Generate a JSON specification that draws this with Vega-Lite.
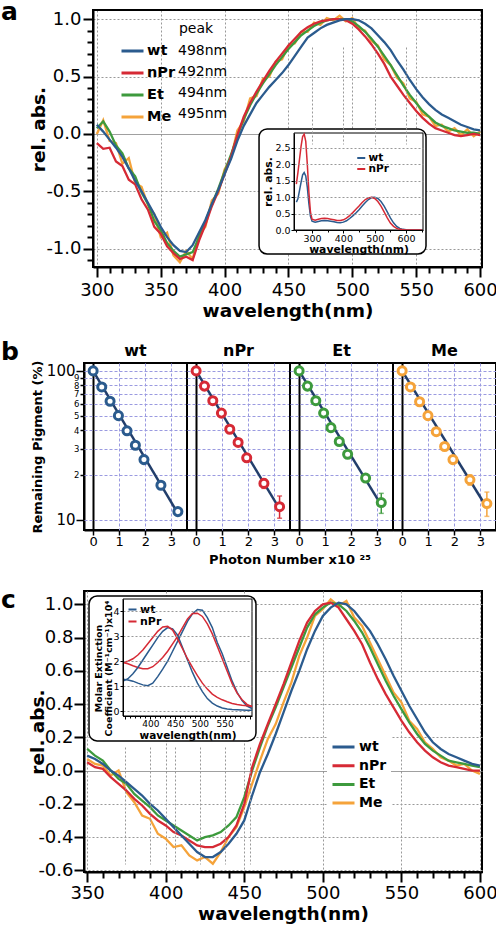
{
"$schema": "https://vega.github.io/schema/vega-lite/v6.json",
"padding": {"left": 0, "top": 0, "right": 0, "bottom": 0},
"columns": 1,
"align": "none",
"spacing": 20,
"datasets": {
"A": [
{"w":300,"wt":0.08,"nPr":-0.08,"Et":0.05,"Me":0.0},
{"w":305,"wt":0.02,"nPr":-0.13,"Et":0.11,"Me":0.12},
{"w":310,"wt":-0.05,"nPr":-0.12,"Et":0.02,"Me":-0.06},
{"w":315,"wt":-0.12,"nPr":-0.24,"Et":-0.1,"Me":-0.08},
{"w":320,"wt":-0.2,"nPr":-0.28,"Et":-0.17,"Me":-0.26},
{"w":325,"wt":-0.3,"nPr":-0.4,"Et":-0.3,"Me":-0.21},
{"w":330,"wt":-0.41,"nPr":-0.44,"Et":-0.37,"Me":-0.43},
{"w":335,"wt":-0.5,"nPr":-0.57,"Et":-0.51,"Me":-0.46},
{"w":340,"wt":-0.6,"nPr":-0.66,"Et":-0.61,"Me":-0.62},
{"w":345,"wt":-0.7,"nPr":-0.81,"Et":-0.76,"Me":-0.7},
{"w":350,"wt":-0.81,"nPr":-0.87,"Et":-0.84,"Me":-0.9},
{"w":355,"wt":-0.9,"nPr":-0.98,"Et":-0.95,"Me":-0.86},
{"w":360,"wt":-0.97,"nPr":-1.04,"Et":-1.02,"Me":-1.06},
{"w":365,"wt":-1.02,"nPr":-1.09,"Et":-1.07,"Me":-1.12},
{"w":370,"wt":-1.03,"nPr":-1.07,"Et":-1.05,"Me":-1.02},
{"w":375,"wt":-0.97,"nPr":-1.1,"Et":-1.03,"Me":-1.09},
{"w":380,"wt":-0.86,"nPr":-0.93,"Et":-0.9,"Me":-0.88},
{"w":385,"wt":-0.75,"nPr":-0.79,"Et":-0.76,"Me":-0.81},
{"w":390,"wt":-0.61,"nPr":-0.63,"Et":-0.62,"Me":-0.58},
{"w":395,"wt":-0.49,"nPr":-0.5,"Et":-0.48,"Me":-0.52},
{"w":400,"wt":-0.35,"nPr":-0.35,"Et":-0.33,"Me":-0.31},
{"w":405,"wt":-0.22,"nPr":-0.2,"Et":-0.18,"Me":-0.21},
{"w":410,"wt":-0.06,"nPr":-0.01,"Et":-0.02,"Me":0.03},
{"w":415,"wt":0.07,"nPr":0.15,"Et":0.13,"Me":0.11},
{"w":420,"wt":0.17,"nPr":0.27,"Et":0.25,"Me":0.31},
{"w":425,"wt":0.27,"nPr":0.37,"Et":0.35,"Me":0.33},
{"w":430,"wt":0.34,"nPr":0.46,"Et":0.44,"Me":0.48},
{"w":435,"wt":0.41,"nPr":0.55,"Et":0.52,"Me":0.5},
{"w":440,"wt":0.47,"nPr":0.63,"Et":0.6,"Me":0.63},
{"w":445,"wt":0.53,"nPr":0.7,"Et":0.67,"Me":0.65},
{"w":450,"wt":0.6,"nPr":0.77,"Et":0.74,"Me":0.77},
{"w":455,"wt":0.68,"nPr":0.83,"Et":0.8,"Me":0.79},
{"w":460,"wt":0.76,"nPr":0.89,"Et":0.86,"Me":0.89},
{"w":465,"wt":0.84,"nPr":0.93,"Et":0.9,"Me":0.89},
{"w":470,"wt":0.88,"nPr":0.96,"Et":0.94,"Me":0.97},
{"w":475,"wt":0.92,"nPr":0.98,"Et":0.97,"Me":0.95},
{"w":480,"wt":0.95,"nPr":0.99,"Et":0.99,"Me":1.01},
{"w":485,"wt":0.97,"nPr":1.0,"Et":1.0,"Me":0.99},
{"w":490,"wt":0.99,"nPr":1.0,"Et":1.0,"Me":1.03},
{"w":495,"wt":1.0,"nPr":0.99,"Et":1.0,"Me":0.98},
{"w":500,"wt":1.0,"nPr":0.96,"Et":0.98,"Me":1.01},
{"w":505,"wt":0.99,"nPr":0.91,"Et":0.94,"Me":0.92},
{"w":510,"wt":0.96,"nPr":0.85,"Et":0.89,"Me":0.9},
{"w":515,"wt":0.92,"nPr":0.78,"Et":0.83,"Me":0.81},
{"w":520,"wt":0.86,"nPr":0.7,"Et":0.76,"Me":0.77},
{"w":525,"wt":0.8,"nPr":0.61,"Et":0.68,"Me":0.65},
{"w":530,"wt":0.73,"nPr":0.5,"Et":0.6,"Me":0.6},
{"w":535,"wt":0.64,"nPr":0.42,"Et":0.51,"Me":0.49},
{"w":540,"wt":0.56,"nPr":0.34,"Et":0.42,"Me":0.44},
{"w":545,"wt":0.47,"nPr":0.27,"Et":0.34,"Me":0.31},
{"w":550,"wt":0.39,"nPr":0.2,"Et":0.27,"Me":0.28},
{"w":555,"wt":0.32,"nPr":0.14,"Et":0.2,"Me":0.17},
{"w":560,"wt":0.26,"nPr":0.09,"Et":0.15,"Me":0.15},
{"w":565,"wt":0.21,"nPr":0.05,"Et":0.1,"Me":0.07},
{"w":570,"wt":0.17,"nPr":0.03,"Et":0.07,"Me":0.08},
{"w":575,"wt":0.14,"nPr":0.01,"Et":0.05,"Me":0.02},
{"w":580,"wt":0.11,"nPr":-0.01,"Et":0.03,"Me":0.05},
{"w":585,"wt":0.08,"nPr":-0.02,"Et":0.02,"Me":-0.01},
{"w":590,"wt":0.06,"nPr":-0.01,"Et":0.01,"Me":0.04},
{"w":595,"wt":0.04,"nPr":0.0,"Et":0.01,"Me":-0.02},
{"w":600,"wt":0.03,"nPr":-0.01,"Et":0.0,"Me":0.02}
],
"IA": [
{"w":250,"wt":0.85,"nPr":1.4},{"w":255,"wt":0.95,"nPr":1.75},{"w":260,"wt":1.2,"nPr":2.15},{"w":265,"wt":1.45,"nPr":2.55},
{"w":270,"wt":1.68,"nPr":2.85},{"w":275,"wt":1.75,"nPr":2.92},{"w":280,"wt":1.65,"nPr":2.7},{"w":285,"wt":1.3,"nPr":2.0},
{"w":290,"wt":0.8,"nPr":1.15},{"w":295,"wt":0.42,"nPr":0.55},{"w":300,"wt":0.27,"nPr":0.33},{"w":310,"wt":0.24,"nPr":0.3},
{"w":320,"wt":0.26,"nPr":0.33},{"w":330,"wt":0.28,"nPr":0.35},{"w":340,"wt":0.29,"nPr":0.36},{"w":350,"wt":0.28,"nPr":0.35},
{"w":360,"wt":0.27,"nPr":0.33},{"w":370,"wt":0.25,"nPr":0.31},{"w":380,"wt":0.23,"nPr":0.29},{"w":390,"wt":0.22,"nPr":0.29},
{"w":400,"wt":0.24,"nPr":0.31},{"w":410,"wt":0.28,"nPr":0.36},{"w":420,"wt":0.35,"nPr":0.44},{"w":430,"wt":0.43,"nPr":0.53},
{"w":440,"wt":0.52,"nPr":0.63},{"w":450,"wt":0.62,"nPr":0.73},{"w":460,"wt":0.73,"nPr":0.84},{"w":470,"wt":0.84,"nPr":0.93},
{"w":480,"wt":0.93,"nPr":0.98},{"w":490,"wt":0.99,"nPr":1.0},{"w":500,"wt":1.0,"nPr":0.96},{"w":510,"wt":0.96,"nPr":0.87},
{"w":520,"wt":0.87,"nPr":0.73},{"w":530,"wt":0.73,"nPr":0.55},{"w":540,"wt":0.55,"nPr":0.37},{"w":550,"wt":0.37,"nPr":0.21},
{"w":560,"wt":0.22,"nPr":0.11},{"w":570,"wt":0.11,"nPr":0.05},{"w":580,"wt":0.05,"nPr":0.02},{"w":590,"wt":0.02,"nPr":0.01},
{"w":600,"wt":0.01,"nPr":0.0},{"w":620,"wt":0.0,"nPr":0.0},{"w":650,"wt":0.0,"nPr":0.0}
],
"C": [
{"w":350,"wt":0.09,"nPr":0.05,"Et":0.13,"Me":0.07},
{"w":355,"wt":0.07,"nPr":0.02,"Et":0.09,"Me":0.04},
{"w":360,"wt":0.04,"nPr":0.01,"Et":0.06,"Me":0.03},
{"w":365,"wt":0.0,"nPr":-0.04,"Et":0.0,"Me":-0.03},
{"w":370,"wt":-0.03,"nPr":-0.08,"Et":-0.05,"Me":0.0},
{"w":375,"wt":-0.07,"nPr":-0.12,"Et":-0.08,"Me":-0.13},
{"w":380,"wt":-0.11,"nPr":-0.17,"Et":-0.14,"Me":-0.19},
{"w":385,"wt":-0.15,"nPr":-0.21,"Et":-0.18,"Me":-0.27},
{"w":390,"wt":-0.2,"nPr":-0.26,"Et":-0.22,"Me":-0.29},
{"w":395,"wt":-0.24,"nPr":-0.3,"Et":-0.27,"Me":-0.38},
{"w":400,"wt":-0.29,"nPr":-0.33,"Et":-0.3,"Me":-0.41},
{"w":405,"wt":-0.34,"nPr":-0.37,"Et":-0.33,"Me":-0.46},
{"w":410,"wt":-0.39,"nPr":-0.39,"Et":-0.36,"Me":-0.45},
{"w":415,"wt":-0.44,"nPr":-0.42,"Et":-0.39,"Me":-0.51},
{"w":420,"wt":-0.49,"nPr":-0.45,"Et":-0.42,"Me":-0.54},
{"w":425,"wt":-0.52,"nPr":-0.46,"Et":-0.4,"Me":-0.52},
{"w":430,"wt":-0.52,"nPr":-0.46,"Et":-0.39,"Me":-0.56},
{"w":435,"wt":-0.49,"nPr":-0.44,"Et":-0.37,"Me":-0.49},
{"w":440,"wt":-0.44,"nPr":-0.4,"Et":-0.33,"Me":-0.4},
{"w":445,"wt":-0.38,"nPr":-0.33,"Et":-0.28,"Me":-0.34},
{"w":450,"wt":-0.3,"nPr":-0.2,"Et":-0.16,"Me":-0.22},
{"w":455,"wt":-0.15,"nPr":0.02,"Et":0.0,"Me":-0.08},
{"w":460,"wt":-0.01,"nPr":0.16,"Et":0.14,"Me":0.06},
{"w":465,"wt":0.1,"nPr":0.28,"Et":0.27,"Me":0.19},
{"w":470,"wt":0.22,"nPr":0.4,"Et":0.38,"Me":0.28},
{"w":475,"wt":0.35,"nPr":0.52,"Et":0.5,"Me":0.41},
{"w":480,"wt":0.48,"nPr":0.65,"Et":0.62,"Me":0.53},
{"w":485,"wt":0.6,"nPr":0.78,"Et":0.74,"Me":0.69},
{"w":490,"wt":0.73,"nPr":0.89,"Et":0.86,"Me":0.8},
{"w":495,"wt":0.84,"nPr":0.96,"Et":0.94,"Me":0.93},
{"w":500,"wt":0.93,"nPr":1.0,"Et":0.98,"Me":0.97},
{"w":505,"wt":0.98,"nPr":1.01,"Et":1.01,"Me":1.03},
{"w":510,"wt":1.01,"nPr":0.98,"Et":1.0,"Me":0.99},
{"w":515,"wt":1.0,"nPr":0.91,"Et":0.96,"Me":1.02},
{"w":520,"wt":0.96,"nPr":0.84,"Et":0.9,"Me":0.92},
{"w":525,"wt":0.9,"nPr":0.76,"Et":0.83,"Me":0.87},
{"w":530,"wt":0.84,"nPr":0.65,"Et":0.74,"Me":0.77},
{"w":535,"wt":0.76,"nPr":0.55,"Et":0.64,"Me":0.67},
{"w":540,"wt":0.67,"nPr":0.46,"Et":0.54,"Me":0.57},
{"w":545,"wt":0.57,"nPr":0.38,"Et":0.45,"Me":0.47},
{"w":550,"wt":0.48,"nPr":0.3,"Et":0.37,"Me":0.41},
{"w":555,"wt":0.39,"nPr":0.23,"Et":0.29,"Me":0.3},
{"w":560,"wt":0.31,"nPr":0.17,"Et":0.22,"Me":0.25},
{"w":565,"wt":0.23,"nPr":0.12,"Et":0.16,"Me":0.17},
{"w":570,"wt":0.17,"nPr":0.08,"Et":0.12,"Me":0.13},
{"w":575,"wt":0.13,"nPr":0.05,"Et":0.09,"Me":0.08},
{"w":580,"wt":0.1,"nPr":0.03,"Et":0.06,"Me":0.06},
{"w":585,"wt":0.08,"nPr":0.02,"Et":0.05,"Me":0.03},
{"w":590,"wt":0.06,"nPr":0.01,"Et":0.04,"Me":0.04},
{"w":595,"wt":0.04,"nPr":0.0,"Et":0.03,"Me":0.0},
{"w":600,"wt":0.03,"nPr":0.0,"Et":0.02,"Me":-0.02}
],
"IC": [
{"k":"A","w":345,"wt":1.28,"nPr":1.95},{"k":"A","w":355,"wt":1.25,"nPr":1.9},{"k":"A","w":365,"wt":1.2,"nPr":1.82},
{"k":"A","w":375,"wt":1.12,"nPr":1.75},{"k":"A","w":385,"wt":1.05,"nPr":1.7},{"k":"A","w":395,"wt":1.02,"nPr":1.7},
{"k":"A","w":405,"wt":1.12,"nPr":1.78},{"k":"A","w":415,"wt":1.38,"nPr":1.95},{"k":"A","w":425,"wt":1.68,"nPr":2.15},
{"k":"A","w":435,"wt":2.0,"nPr":2.4},{"k":"A","w":445,"wt":2.4,"nPr":2.7},{"k":"A","w":455,"wt":2.8,"nPr":3.0},
{"k":"A","w":465,"wt":3.2,"nPr":3.35},{"k":"A","w":475,"wt":3.6,"nPr":3.7},{"k":"A","w":485,"wt":3.9,"nPr":3.92},
{"k":"A","w":495,"wt":4.08,"nPr":3.93},{"k":"A","w":505,"wt":4.05,"nPr":3.8},{"k":"A","w":515,"wt":3.75,"nPr":3.5},
{"k":"A","w":525,"wt":3.35,"nPr":3.1},{"k":"A","w":535,"wt":2.75,"nPr":2.6},{"k":"A","w":545,"wt":2.3,"nPr":2.1},
{"k":"A","w":555,"wt":1.75,"nPr":1.6},{"k":"A","w":565,"wt":1.2,"nPr":1.1},{"k":"A","w":575,"wt":0.75,"nPr":0.72},
{"k":"A","w":585,"wt":0.42,"nPr":0.45},{"k":"A","w":595,"wt":0.2,"nPr":0.27},{"k":"A","w":605,"wt":0.1,"nPr":0.17},
{"k":"B","w":345,"wt":1.2,"nPr":1.95},{"k":"B","w":355,"wt":1.3,"nPr":2.0},{"k":"B","w":365,"wt":1.5,"nPr":2.1},
{"k":"B","w":375,"wt":1.75,"nPr":2.25},{"k":"B","w":385,"wt":2.05,"nPr":2.45},{"k":"B","w":395,"wt":2.35,"nPr":2.7},
{"k":"B","w":405,"wt":2.65,"nPr":2.95},{"k":"B","w":415,"wt":2.95,"nPr":3.2},{"k":"B","w":425,"wt":3.2,"nPr":3.38},
{"k":"B","w":435,"wt":3.35,"nPr":3.4},{"k":"B","w":445,"wt":3.3,"nPr":3.25},{"k":"B","w":455,"wt":3.05,"nPr":2.9},
{"k":"B","w":465,"wt":2.55,"nPr":2.5},{"k":"B","w":475,"wt":2.05,"nPr":2.1},{"k":"B","w":485,"wt":1.55,"nPr":1.75},
{"k":"B","w":495,"wt":1.12,"nPr":1.42},{"k":"B","w":505,"wt":0.78,"nPr":1.12},{"k":"B","w":515,"wt":0.5,"nPr":0.88},
{"k":"B","w":525,"wt":0.32,"nPr":0.68},{"k":"B","w":535,"wt":0.2,"nPr":0.55},{"k":"B","w":545,"wt":0.12,"nPr":0.45},
{"k":"B","w":555,"wt":0.08,"nPr":0.37},{"k":"B","w":565,"wt":0.06,"nPr":0.3},{"k":"B","w":575,"wt":0.05,"nPr":0.26},
{"k":"B","w":585,"wt":0.04,"nPr":0.23},{"k":"B","w":595,"wt":0.03,"nPr":0.21},{"k":"B","w":605,"wt":0.03,"nPr":0.2}
],
"B": [
{"g":"wt","k":"pt","x":0,"y":100},{"g":"wt","k":"pt","x":0.33,"y":78},{"g":"wt","k":"pt","x":0.65,"y":62.5},
{"g":"wt","k":"pt","x":0.97,"y":50},{"g":"wt","k":"pt","x":1.3,"y":39.5},{"g":"wt","k":"pt","x":1.62,"y":31.6},
{"g":"wt","k":"pt","x":1.95,"y":25.3},{"g":"wt","k":"pt","x":2.6,"y":17},{"g":"wt","k":"pt","x":3.25,"y":11.3},
{"g":"nPr","k":"pt","x":0,"y":100},{"g":"nPr","k":"pt","x":0.32,"y":79},{"g":"nPr","k":"pt","x":0.64,"y":63},
{"g":"nPr","k":"pt","x":0.97,"y":52},{"g":"nPr","k":"pt","x":1.29,"y":40.5},{"g":"nPr","k":"pt","x":1.61,"y":33},
{"g":"nPr","k":"pt","x":1.94,"y":26},{"g":"nPr","k":"pt","x":2.6,"y":17.5,"lo":16.2,"hi":18.8},{"g":"nPr","k":"pt","x":3.2,"y":12.2,"lo":10.2,"hi":14.4},
{"g":"Et","k":"pt","x":0,"y":100},{"g":"Et","k":"pt","x":0.32,"y":79},{"g":"Et","k":"pt","x":0.64,"y":63},
{"g":"Et","k":"pt","x":0.94,"y":52},{"g":"Et","k":"pt","x":1.22,"y":41.5},{"g":"Et","k":"pt","x":1.54,"y":33.5},
{"g":"Et","k":"pt","x":1.86,"y":27.5},{"g":"Et","k":"pt","x":2.55,"y":19,"lo":18,"hi":20},{"g":"Et","k":"pt","x":3.15,"y":13,"lo":11,"hi":15},
{"g":"Me","k":"pt","x":0,"y":100},{"g":"Me","k":"pt","x":0.32,"y":78},{"g":"Me","k":"pt","x":0.67,"y":62},
{"g":"Me","k":"pt","x":0.99,"y":50},{"g":"Me","k":"pt","x":1.31,"y":39},{"g":"Me","k":"pt","x":1.63,"y":31},
{"g":"Me","k":"pt","x":1.95,"y":25.3},{"g":"Me","k":"pt","x":2.6,"y":18.5,"lo":17,"hi":20},{"g":"Me","k":"pt","x":3.25,"y":12.8,"lo":10.5,"hi":15.3},
{"g":"wt","k":"fit","x":0,"y":100},{"g":"wt","k":"fit","x":3.25,"y":11},
{"g":"nPr","k":"fit","x":0,"y":100},{"g":"nPr","k":"fit","x":3.2,"y":11.8},
{"g":"Et","k":"fit","x":0,"y":100},{"g":"Et","k":"fit","x":3.15,"y":12.5},
{"g":"Me","k":"fit","x":0,"y":100},{"g":"Me","k":"fit","x":3.25,"y":12}
]
},
"concat": [
{
"width": 398, "height": 257,
"view": {"stroke": null},
"title": {"text": "a", "anchor": "start", "frame": "group", "fontSize": 25, "fontWeight": "bold", "dx": -83, "dy": 5, "offset": -31, "baseline": "alphabetic"},
"layer": [
 {
  "layer": [
   {"data": {"values": [{}]}, "mark": {"type": "rect", "fill": "#fff", "fillOpacity": 0, "stroke": "#000", "strokeWidth": 2},
    "encoding": {
     "x": {"datum": 297, "type": "quantitative", "scale": {"domain": [297, 601.5], "range": [9, 398], "nice": false, "zero": false},
       "axis": {"values": [300,310,320,330,340,350,360,370,380,390,400,410,420,430,440,450,460,470,480,490,500,510,520,530,540,550,560,570,580,590,600],
         "labelExpr": "datum.value % 50 === 0 ? datum.label : ''", "labelOverlap": false,
         "tickSize": {"condition": {"test": "datum.value % 50 === 0", "value": 10}, "value": 6},
         "grid": true, "gridOpacity": {"condition": {"test": "datum.value % 50 === 0", "value": 1}, "value": 0},
         "labelFontSize": 18, "labelPadding": 4,
         "title": "wavelength(nm)", "titleFontSize": 18.5, "titleFontWeight": "bold", "titleBaseline": "alphabetic", "titleY": 49}},
     "x2": {"datum": 601.5},
     "y": {"datum": -1.16, "type": "quantitative", "scale": {"domain": [-1.16, 1.08], "nice": false, "zero": false},
       "axis": {"offset": -9, "values": [-1.1,-1,-0.9,-0.8,-0.7,-0.6,-0.5,-0.4,-0.3,-0.2,-0.1,0,0.1,0.2,0.3,0.4,0.5,0.6,0.7,0.8,0.9,1],
         "labelExpr": "abs(round(datum.value*10)) % 5 === 0 ? (datum.value < 0 ? '-' : '') + format(abs(datum.value), '.1f') : ''", "labelOverlap": false,
         "tickSize": {"condition": {"test": "abs(round(datum.value*10)) % 5 === 0", "value": 10}, "value": 6},
         "grid": true, "gridOpacity": {"condition": {"test": "abs(round(datum.value*10)) % 5 === 0", "value": 1}, "value": 0},
         "gridDash": {"condition": {"test": "datum.value === 0", "value": [1,0]}, "value": [2,2]},
         "gridColor": {"condition": {"test": "datum.value === 0", "value": "#808080"}, "value": "#999"},
         "labelFontSize": 18, "labelPadding": 2,
         "title": "rel. abs.", "titleFontSize": 18.5, "titleFontWeight": "bold", "titleBaseline": "alphabetic", "titleX": -49, "titleY": 119}},
     "y2": {"datum": 1.08}}},
   {"data": {"name": "A"}, "transform": [{"fold": ["Me","Et","nPr","wt"], "as": ["s","v"]}],
    "mark": {"type": "line", "strokeWidth": 2.3},
    "encoding": {
     "x": {"field": "w", "type": "quantitative", "scale": {"domain": [297, 601.5], "range": [9, 398], "nice": false, "zero": false},
       "axis": {"values": [300,310,320,330,340,350,360,370,380,390,400,410,420,430,440,450,460,470,480,490,500,510,520,530,540,550,560,570,580,590,600],
         "labelExpr": "datum.value % 50 === 0 ? datum.label : ''", "labelOverlap": false,
         "tickSize": {"condition": {"test": "datum.value % 50 === 0", "value": 10}, "value": 6},
         "grid": true, "gridOpacity": {"condition": {"test": "datum.value % 50 === 0", "value": 1}, "value": 0},
         "labelFontSize": 18, "labelPadding": 4,
         "title": "wavelength(nm)", "titleFontSize": 18.5, "titleFontWeight": "bold", "titleBaseline": "alphabetic", "titleY": 49}},
     "y": {"field": "v", "type": "quantitative", "scale": {"domain": [-1.16, 1.08], "nice": false, "zero": false},
       "axis": {"offset": -9, "values": [-1.1,-1,-0.9,-0.8,-0.7,-0.6,-0.5,-0.4,-0.3,-0.2,-0.1,0,0.1,0.2,0.3,0.4,0.5,0.6,0.7,0.8,0.9,1],
         "labelExpr": "abs(round(datum.value*10)) % 5 === 0 ? (datum.value < 0 ? '-' : '') + format(abs(datum.value), '.1f') : ''", "labelOverlap": false,
         "tickSize": {"condition": {"test": "abs(round(datum.value*10)) % 5 === 0", "value": 10}, "value": 6},
         "grid": true, "gridOpacity": {"condition": {"test": "abs(round(datum.value*10)) % 5 === 0", "value": 1}, "value": 0},
         "gridDash": {"condition": {"test": "datum.value === 0", "value": [1,0]}, "value": [2,2]},
         "gridColor": {"condition": {"test": "datum.value === 0", "value": "#808080"}, "value": "#999"},
         "labelFontSize": 18, "labelPadding": 2,
         "title": "rel. abs.", "titleFontSize": 18.5, "titleFontWeight": "bold", "titleBaseline": "alphabetic", "titleX": -49, "titleY": 119}},
     "color": {"field": "s", "type": "nominal", "scale": {"domain": ["wt","nPr","Et","Me"], "range": ["#2b5b8e","#d62a35","#3d9a3d","#f5a33a"]},
       "legend": {"orient": "none", "legendX": 36, "legendY": 33.5, "title": null, "labelFontSize": 14.5, "labelFontWeight": "bold", "symbolType": "stroke", "symbolSize": 484, "symbolStrokeWidth": 3, "clipHeight": 15, "rowPadding": 6, "labelOffset": 2, "padding": 0}}
    }},
   {"data": {"values": [{"pk":"498nm"},{"pk":"492nm"},{"pk":"494nm"},{"pk":"495nm"}]},
    "mark": {"type": "point", "size": 0, "opacity": 0},
    "encoding": {"shape": {"field": "pk", "type": "nominal", "scale": {"domain": ["498nm","492nm","494nm","495nm"]},
      "legend": {"orient": "none", "legendX": 80, "legendY": 12, "title": "peak", "titleFontSize": 14, "titleFontWeight": "normal", "titleAnchor": "middle", "titlePadding": 7.5, "labelFontSize": 14, "symbolSize": 0, "symbolOpacity": 0, "labelOffset": 0, "clipHeight": 15, "rowPadding": 6, "padding": 0}}}}
  ]
 },
 {
  "layer": [
   {"data": {"values": [{}]}, "mark": {"type": "rect", "fill": "#fff", "stroke": "#000", "strokeWidth": 1.5, "cornerRadius": 8},
    "encoding": {
     "x": {"datum": 131, "type": "quantitative", "scale": {"domain": [242.5, 654], "range": [210, 339], "nice": false, "zero": false},
       "axis": {"orient": "bottom", "offset": -37, "zindex": 1, "values": [250,300,350,400,450,500,550,600,650],
         "labelExpr": "datum.value % 100 === 0 ? datum.label : ''", "labelOverlap": false,
         "tickSize": {"condition": {"test": "datum.value % 100 === 0", "value": 3}, "value": 2},
         "tickWidth": 1, "domainWidth": 1, "labelFontSize": 9.5, "labelPadding": 0,
         "grid": true, "gridOpacity": {"condition": {"test": "datum.value % 100 === 0", "value": 1}, "value": 0},
         "title": "wavelength(nm)", "titleFontSize": 10.8, "titleFontWeight": "bold", "titleBaseline": "alphabetic", "titleY": 22}},
     "x2": {"datum": 663.6},
     "y": {"datum": 3.08, "type": "quantitative", "scale": {"domain": [0, 2.957], "range": [220, 123], "nice": false, "zero": false},
       "axis": {"orient": "left", "offset": -210, "zindex": 1, "values": [0,0.5,1,1.5,2,2.5], "format": ".1f", "labelOverlap": false,
         "tickSize": 3, "tickWidth": 1, "domainWidth": 1, "labelFontSize": 9.5, "labelPadding": 1, "grid": true,
         "title": "rel. abs.", "titleFontSize": 10.8, "titleFontWeight": "bold", "titleBaseline": "alphabetic", "titleX": -23}},
     "y2": {"datum": -0.73}}},
   {"data": {"values": [{}]}, "mark": {"type": "rect", "fill": "#fff", "fillOpacity": 0, "stroke": "#000", "strokeWidth": 1},
    "encoding": {
     "x": {"datum": 242.5, "type": "quantitative", "scale": {"domain": [242.5, 654], "range": [210, 339], "nice": false, "zero": false},
       "axis": {"orient": "bottom", "offset": -37, "zindex": 1, "values": [250,300,350,400,450,500,550,600,650],
         "labelExpr": "datum.value % 100 === 0 ? datum.label : ''", "labelOverlap": false,
         "tickSize": {"condition": {"test": "datum.value % 100 === 0", "value": 3}, "value": 2},
         "tickWidth": 1, "domainWidth": 1, "labelFontSize": 9.5, "labelPadding": 0,
         "grid": true, "gridOpacity": {"condition": {"test": "datum.value % 100 === 0", "value": 1}, "value": 0},
         "title": "wavelength(nm)", "titleFontSize": 10.8, "titleFontWeight": "bold", "titleBaseline": "alphabetic", "titleY": 22}},
     "x2": {"datum": 654},
     "y": {"datum": 2.957, "type": "quantitative", "scale": {"domain": [0, 2.957], "range": [220, 123], "nice": false, "zero": false},
       "axis": {"orient": "left", "offset": -210, "zindex": 1, "values": [0,0.5,1,1.5,2,2.5], "format": ".1f", "labelOverlap": false,
         "tickSize": 3, "tickWidth": 1, "domainWidth": 1, "labelFontSize": 9.5, "labelPadding": 1, "grid": true,
         "title": "rel. abs.", "titleFontSize": 10.8, "titleFontWeight": "bold", "titleBaseline": "alphabetic", "titleX": -23}},
     "y2": {"datum": 0}}},
   {"data": {"name": "IA"}, "transform": [{"fold": ["wt","nPr"], "as": ["s","v"]}],
    "mark": {"type": "line", "strokeWidth": 1.5},
    "encoding": {
     "x": {"field": "w", "type": "quantitative", "scale": {"domain": [242.5, 654], "range": [210, 339], "nice": false, "zero": false},
       "axis": {"orient": "bottom", "offset": -37, "zindex": 1, "values": [250,300,350,400,450,500,550,600,650],
         "labelExpr": "datum.value % 100 === 0 ? datum.label : ''", "labelOverlap": false,
         "tickSize": {"condition": {"test": "datum.value % 100 === 0", "value": 3}, "value": 2},
         "tickWidth": 1, "domainWidth": 1, "labelFontSize": 9.5, "labelPadding": 0,
         "grid": true, "gridOpacity": {"condition": {"test": "datum.value % 100 === 0", "value": 1}, "value": 0},
         "title": "wavelength(nm)", "titleFontSize": 10.8, "titleFontWeight": "bold", "titleBaseline": "alphabetic", "titleY": 22}},
     "y": {"field": "v", "type": "quantitative", "scale": {"domain": [0, 2.957], "range": [220, 123], "nice": false, "zero": false},
       "axis": {"orient": "left", "offset": -210, "zindex": 1, "values": [0,0.5,1,1.5,2,2.5], "format": ".1f", "labelOverlap": false,
         "tickSize": 3, "tickWidth": 1, "domainWidth": 1, "labelFontSize": 9.5, "labelPadding": 1, "grid": true,
         "title": "rel. abs.", "titleFontSize": 10.8, "titleFontWeight": "bold", "titleBaseline": "alphabetic", "titleX": -23}},
     "color": {"field": "s", "type": "nominal", "scale": {"domain": ["wt","nPr"], "range": ["#2b5b8e","#d62a35"]},
       "legend": {"orient": "none", "legendX": 272, "legendY": 142.5, "title": null, "labelFontSize": 10.5, "labelFontWeight": "bold", "symbolType": "stroke", "symbolSize": 64, "symbolStrokeWidth": 2, "clipHeight": 11, "rowPadding": 0, "labelOffset": 2, "padding": 0}}
    }}
  ]
 }
],
"resolve": {"scale": {"x": "independent", "y": "independent", "color": "independent"}}
},
{
"data": {"name": "B"},
"title": {"text": "b", "anchor": "start", "frame": "group", "fontSize": 25, "fontWeight": "bold", "dx": -83, "dy": 15, "offset": -27, "baseline": "alphabetic"},
"facet": {"column": {"field": "g", "type": "nominal", "sort": ["wt","nPr","Et","Me"], "title": "Photon Number x10 ²⁵",
  "header": {"labelOrient": "top", "titleOrient": "bottom", "labelFontSize": 16, "labelFontWeight": "bold", "labelColor": "#000", "labelPadding": 4, "titleFontSize": 13, "titleFontWeight": "bold", "titleColor": "#000", "titlePadding": -4}}},
"spacing": 0,
"bounds": "flush",
"spec": {
 "width": 103, "height": 167,
 "encoding": {
  "x": {"field": "x", "type": "quantitative", "scale": {"domain": [-0.35, 3.6], "nice": false, "zero": false},
    "axis": {"values": [0,1,2,3], "labelFontSize": 13, "labelOverlap": false, "tickSize": 5, "tickWidth": 1.5, "grid": true,
      "gridColor": {"condition": {"test": "datum.value === 0", "value": "#000"}, "value": "#9a9ae0"},
      "gridWidth": {"condition": {"test": "datum.value === 0", "value": 2}, "value": 1},
      "gridDash": {"condition": {"test": "datum.value === 0", "value": [1,0]}, "value": [3,2]},
      "title": null, "labelPadding": 0}},
  "y": {"field": "y", "type": "quantitative", "scale": {"type": "log", "domain": [8.5, 113], "nice": false},
    "axis": {"values": [10,20,30,40,50,60,70,80,90,100],
      "labelExpr": "datum.value === 100 ? '100' : datum.value === 10 ? '10' : format(datum.value/10, 'd')", "labelOverlap": false,
      "labelFontSize": {"condition": {"test": "datum.value === 100 || datum.value === 10", "value": 15}, "value": 8.5},
      "tickSize": {"condition": {"test": "datum.value === 100 || datum.value === 10", "value": 8}, "value": 4},
      "tickWidth": 1.5, "labelPadding": 1, "grid": true, "gridColor": "#9a9ae0", "gridDash": [3,2],
      "title": "Remaining Pigment (%)", "titleFontSize": 13, "titleFontWeight": "bold", "titleBaseline": "alphabetic", "titleX": -43}}
 },
 "layer": [
  {"transform": [{"filter": "datum.k === 'fit'"}], "mark": {"type": "line", "color": "#223e6b", "strokeWidth": 2.5}},
  {"transform": [{"filter": "datum.hi > 0"}], "mark": {"type": "errorbar", "ticks": true, "thickness": 1.5},
   "encoding": {
    "y": {"field": "lo", "type": "quantitative", "scale": {"type": "log", "domain": [8.5, 113], "nice": false},
      "axis": {"values": [10,20,30,40,50,60,70,80,90,100],
        "labelExpr": "datum.value === 100 ? '100' : datum.value === 10 ? '10' : format(datum.value/10, 'd')", "labelOverlap": false,
        "labelFontSize": {"condition": {"test": "datum.value === 100 || datum.value === 10", "value": 15}, "value": 8.5},
        "tickSize": {"condition": {"test": "datum.value === 100 || datum.value === 10", "value": 8}, "value": 4},
        "tickWidth": 1.5, "labelPadding": 1, "grid": true, "gridColor": "#9a9ae0", "gridDash": [3,2],
        "title": "Remaining Pigment (%)", "titleFontSize": 13, "titleFontWeight": "bold", "titleBaseline": "alphabetic", "titleX": -43}},
    "y2": {"field": "hi"},
    "color": {"field": "g", "type": "nominal", "scale": {"domain": ["wt","nPr","Et","Me"], "range": ["#2b5b8e","#d62a35","#3d9a3d","#f5a33a"]}, "legend": null}}},
  {"transform": [{"filter": "datum.k === 'pt'"}], "mark": {"type": "point", "shape": "circle", "size": 65, "strokeWidth": 3, "fill": "#fff", "fillOpacity": 1, "opacity": 1},
   "encoding": {
    "stroke": {"field": "g", "type": "nominal", "scale": {"domain": ["wt","nPr","Et","Me"], "range": ["#2b5b8e","#d62a35","#3d9a3d","#f5a33a"]}, "legend": null}
   }}
 ]
}
},
{
"width": 398, "height": 281,
"title": {"text": "c", "anchor": "start", "frame": "group", "fontSize": 25, "fontWeight": "bold", "dx": -83, "dy": 12, "offset": -30, "baseline": "alphabetic"},
"layer": [
 {
  "layer": [
   {"data": {"name": "C"}, "transform": [{"fold": ["Me","Et","nPr","wt"], "as": ["s","v"]}],
    "mark": {"type": "line", "strokeWidth": 2.3},
    "encoding": {
     "x": {"field": "w", "type": "quantitative", "scale": {"domain": [348, 601.3], "nice": false, "zero": false},
       "axis": {"values": [350,360,370,380,390,400,410,420,430,440,450,460,470,480,490,500,510,520,530,540,550,560,570,580,590,600],
         "labelExpr": "datum.value % 50 === 0 ? datum.label : ''", "labelOverlap": false,
         "tickSize": {"condition": {"test": "datum.value % 50 === 0", "value": 10}, "value": 6},
         "grid": true, "gridOpacity": {"condition": {"test": "datum.value % 50 === 0", "value": 1}, "value": 0},
         "labelFontSize": 18, "labelPadding": 2,
         "title": "wavelength(nm)", "titleFontSize": 18.5, "titleFontWeight": "bold", "titleBaseline": "alphabetic", "titleY": 47}},
     "y": {"field": "v", "type": "quantitative", "scale": {"domain": [-0.61, 1.08], "nice": false, "zero": false},
       "axis": {"values": [-0.6,-0.4,-0.2,0,0.2,0.4,0.6,0.8,1],
         "labelExpr": "(datum.value < 0 ? '-' : '') + format(abs(datum.value), '.1f')", "labelOverlap": false,
         "tickSize": 10, "grid": true,
         "gridDash": {"condition": {"test": "datum.value === 0", "value": [1,0]}, "value": [2,2]},
         "gridColor": {"condition": {"test": "datum.value === 0", "value": "#808080"}, "value": "#999"},
         "labelFontSize": 18, "labelPadding": 1,
         "title": "rel. abs.", "titleFontSize": 18.5, "titleFontWeight": "bold", "titleBaseline": "alphabetic", "titleX": -41}},
     "color": {"field": "s", "type": "nominal", "scale": {"domain": ["wt","nPr","Et","Me"], "range": ["#2b5b8e","#d62a35","#3d9a3d","#f5a33a"]},
       "legend": {"orient": "none", "legendX": 243, "legendY": 145.5, "fillColor": "#fff", "padding": 4, "title": null, "labelFontSize": 14, "labelFontWeight": "bold", "symbolType": "stroke", "symbolSize": 484, "symbolStrokeWidth": 3, "clipHeight": 13, "rowPadding": 3.7, "labelOffset": 3}}
    }}
  ]
 },
 {
  "layer": [
   {"data": {"values": [{}]}, "mark": {"type": "rect", "fill": "#fff", "stroke": "#000", "strokeWidth": 1.5, "cornerRadius": 8},
    "encoding": {
     "x": {"datum": 276.5, "type": "quantitative", "scale": {"domain": [345, 605], "range": [39, 168], "nice": false, "zero": false},
       "axis": {"orient": "bottom", "offset": -156, "zindex": 1, "values": [350,360,370,380,390,400,410,420,430,440,450,460,470,480,490,500,510,520,530,540,550,560,570,580,590,600],
         "labelExpr": "datum.value % 50 === 0 && datum.value >= 400 && datum.value <= 550 ? datum.label : ''", "labelOverlap": false,
         "tickSize": {"condition": {"test": "datum.value % 50 === 0", "value": 3}, "value": 2},
         "tickWidth": 1, "domainWidth": 1, "labelFontSize": 9, "labelPadding": 0,
         "grid": true, "gridOpacity": {"condition": {"test": "datum.value % 50 === 0", "value": 1}, "value": 0},
         "title": "wavelength(nm)", "titleFontSize": 10.5, "titleFontWeight": "bold", "titleBaseline": "alphabetic", "titleY": 22}},
     "x2": {"datum": 613},
     "y": {"datum": 4.62, "type": "quantitative", "scale": {"domain": [-0.2, 4.5], "range": [125, 8], "nice": false, "zero": false},
       "axis": {"orient": "left", "offset": -39, "zindex": 1, "values": [0,1,2,3,4], "labelOverlap": false,
         "tickSize": 3, "tickWidth": 1, "domainWidth": 1, "labelFontSize": 9.5, "labelPadding": 1, "grid": true,
         "title": ["Molar Extinction", "Coefficient (M⁻¹cm⁻¹)x10⁴"], "titleFontSize": 9.5, "titleFontWeight": "bold", "titleBaseline": "alphabetic", "titleX": -22, "titleY": 77, "titleLineHeight": 10}},
     "y2": {"datum": -1.2}}},
   {"data": {"values": [{}]}, "mark": {"type": "rect", "fill": "#fff", "fillOpacity": 0, "stroke": "#000", "strokeWidth": 1},
    "encoding": {
     "x": {"datum": 345, "type": "quantitative", "scale": {"domain": [345, 605], "range": [39, 168], "nice": false, "zero": false},
       "axis": {"orient": "bottom", "offset": -156, "zindex": 1, "values": [350,360,370,380,390,400,410,420,430,440,450,460,470,480,490,500,510,520,530,540,550,560,570,580,590,600],
         "labelExpr": "datum.value % 50 === 0 && datum.value >= 400 && datum.value <= 550 ? datum.label : ''", "labelOverlap": false,
         "tickSize": {"condition": {"test": "datum.value % 50 === 0", "value": 3}, "value": 2},
         "tickWidth": 1, "domainWidth": 1, "labelFontSize": 9, "labelPadding": 0,
         "grid": true, "gridOpacity": {"condition": {"test": "datum.value % 50 === 0", "value": 1}, "value": 0},
         "title": "wavelength(nm)", "titleFontSize": 10.5, "titleFontWeight": "bold", "titleBaseline": "alphabetic", "titleY": 22}},
     "x2": {"datum": 605},
     "y": {"datum": 4.5, "type": "quantitative", "scale": {"domain": [-0.2, 4.5], "range": [125, 8], "nice": false, "zero": false},
       "axis": {"orient": "left", "offset": -39, "zindex": 1, "values": [0,1,2,3,4], "labelOverlap": false,
         "tickSize": 3, "tickWidth": 1, "domainWidth": 1, "labelFontSize": 9.5, "labelPadding": 1, "grid": true,
         "title": ["Molar Extinction", "Coefficient (M⁻¹cm⁻¹)x10⁴"], "titleFontSize": 9.5, "titleFontWeight": "bold", "titleBaseline": "alphabetic", "titleX": -22, "titleY": 77, "titleLineHeight": 10}},
     "y2": {"datum": -0.2}}},
   {"data": {"name": "IC"}, "transform": [{"fold": ["wt","nPr"], "as": ["s","v"]}],
    "mark": {"type": "line", "strokeWidth": 1.5},
    "encoding": {
     "x": {"field": "w", "type": "quantitative", "scale": {"domain": [345, 605], "range": [39, 168], "nice": false, "zero": false},
       "axis": {"orient": "bottom", "offset": -156, "zindex": 1, "values": [350,360,370,380,390,400,410,420,430,440,450,460,470,480,490,500,510,520,530,540,550,560,570,580,590,600],
         "labelExpr": "datum.value % 50 === 0 && datum.value >= 400 && datum.value <= 550 ? datum.label : ''", "labelOverlap": false,
         "tickSize": {"condition": {"test": "datum.value % 50 === 0", "value": 3}, "value": 2},
         "tickWidth": 1, "domainWidth": 1, "labelFontSize": 9, "labelPadding": 0,
         "grid": true, "gridOpacity": {"condition": {"test": "datum.value % 50 === 0", "value": 1}, "value": 0},
         "title": "wavelength(nm)", "titleFontSize": 10.5, "titleFontWeight": "bold", "titleBaseline": "alphabetic", "titleY": 22}},
     "y": {"field": "v", "type": "quantitative", "scale": {"domain": [-0.2, 4.5], "range": [125, 8], "nice": false, "zero": false},
       "axis": {"orient": "left", "offset": -39, "zindex": 1, "values": [0,1,2,3,4], "labelOverlap": false,
         "tickSize": 3, "tickWidth": 1, "domainWidth": 1, "labelFontSize": 9.5, "labelPadding": 1, "grid": true,
         "title": ["Molar Extinction", "Coefficient (M⁻¹cm⁻¹)x10⁴"], "titleFontSize": 9.5, "titleFontWeight": "bold", "titleBaseline": "alphabetic", "titleX": -22, "titleY": 77, "titleLineHeight": 10}},
     "detail": {"field": "k", "type": "nominal"},
     "color": {"field": "s", "type": "nominal", "scale": {"domain": ["wt","nPr"], "range": ["#2b5b8e","#d62a35"]},
       "legend": {"orient": "none", "legendX": 43, "legendY": 12.5, "title": null, "labelFontSize": 11, "labelFontWeight": "bold", "symbolType": "stroke", "symbolSize": 64, "symbolStrokeWidth": 2, "clipHeight": 12, "rowPadding": 0, "labelOffset": 2, "padding": 0}}
    }}
  ]
 }
],
"resolve": {"scale": {"x": "independent", "y": "independent", "color": "independent"}}
}
],
"config": {
 "font": "DejaVu Sans",
 "view": {"stroke": "#000", "strokeWidth": 2},
 "axis": {"labelFont": "DejaVu Sans", "titleFont": "DejaVu Sans", "labelColor": "#000", "titleColor": "#000", "domainColor": "#000", "tickColor": "#000", "domainWidth": 2, "tickWidth": 2, "gridColor": "#999", "gridDash": [2,2], "gridWidth": 1, "labelOverlap": false, "labelFlush": false},
 "legend": {"labelFont": "DejaVu Sans", "titleFont": "DejaVu Sans", "labelColor": "#000", "titleColor": "#000"},
 "header": {"labelFont": "DejaVu Sans", "titleFont": "DejaVu Sans"},
 "title": {"font": "DejaVu Sans", "color": "#000"}
}
}
